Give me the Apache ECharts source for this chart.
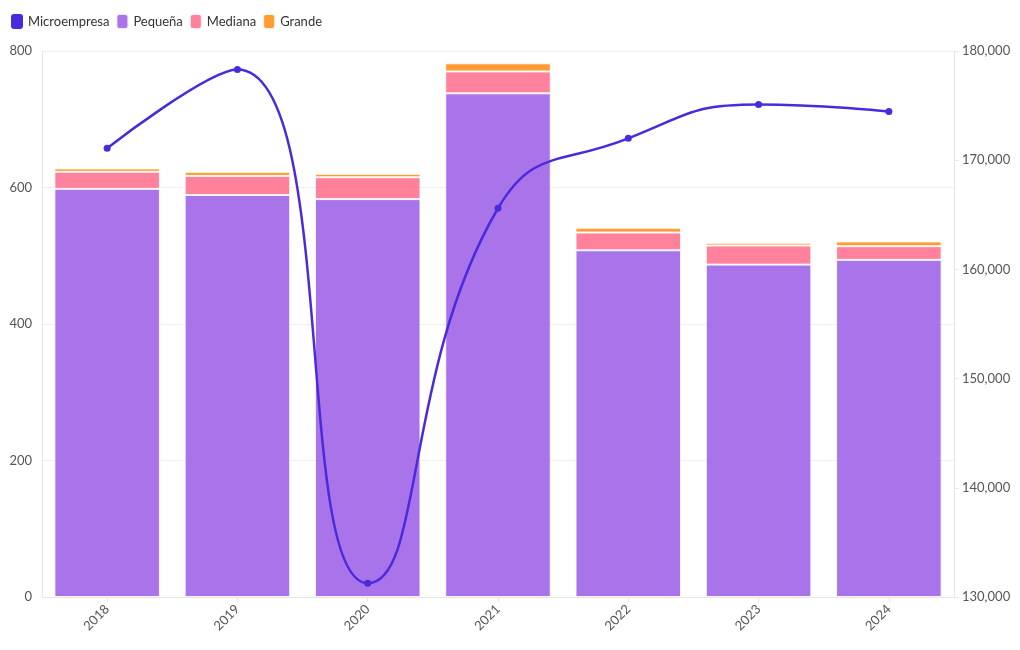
<!DOCTYPE html>
<html><head><meta charset="utf-8">
<script src="https://cdn.jsdelivr.net/npm/echarts@6/dist/echarts.min.js"></script>
<style>html,body{margin:0;padding:0;background:#fff}#c{width:1020px;height:650px}</style>
</head><body><div id="c"></div>
<script>
const years = ['2018','2019','2020','2021','2022','2023','2024'];
const microempresa = [171100, 178300, 131270, 165600, 172000, 175100, 174450];
const pequena = [598, 589, 583, 738, 508, 487, 494];
const mediana = [25, 28, 32, 32, 26, 28, 20];
const grande = [5, 6, 5, 12, 7, 4, 7];
const leftTicks = [0, 200, 400, 600, 800];
const rightTicks = [130000, 140000, 150000, 160000, 170000, 180000];

const font = 'Lato';
const chart = echarts.init(document.getElementById('c'), null, {renderer:'canvas'});
const barStyle = (c) => ({color: c, opacity: 0.85, borderColor: '#fff', borderWidth: 1});
chart.setOption({
  animation: false,
  textStyle: {fontFamily: font},
  legend: {
    left: 6, top: 8, itemWidth: 12, itemHeight: 15, itemGap: 6,
    icon: 'roundRect',
    textStyle: {fontFamily: font, fontSize: 13, color: '#333'},
    data: ['Microempresa','Pequeña','Mediana','Grande']
  },
  grid: {left: 42, right: 66, top: 51, bottom: 53},
  xAxis: {
    type: 'category', data: years,
    axisLine: {lineStyle: {color: '#e6e6e6'}},
    axisTick: {show: true, alignWithLabel: true, lineStyle: {color: '#e6e6e6'}},
    axisLabel: {rotate: 45, color: '#555', fontSize: 13, fontFamily: font, margin: 10}
  },
  yAxis: [
    {type: 'value', min: leftTicks[0], max: leftTicks[leftTicks.length-1], interval: 200,
     axisLine: {show: true, lineStyle: {color: '#e6e6e6'}},
     axisTick: {show: false},
     splitLine: {lineStyle: {color: '#eeeeee'}},
     axisLabel: {color: '#555', fontSize: 13, fontFamily: font, margin: 10}},
    {type: 'value', min: rightTicks[0], max: rightTicks[rightTicks.length-1], interval: 10000,
     axisLine: {show: true, lineStyle: {color: '#e6e6e6'}},
     axisTick: {show: true, length: 5, lineStyle: {color: '#e6e6e6'}},
     splitLine: {show: false},
     axisLabel: {color: '#555', fontSize: 13, fontFamily: font, margin: 8,
       formatter: v => v.toLocaleString('en-US')}}
  ],
  series: [
    {name: 'Pequeña', type: 'bar', stack: 's', data: pequena, barWidth: '81%',
     itemStyle: barStyle('#9a5ce6'), z: 2},
    {name: 'Mediana', type: 'bar', stack: 's', data: mediana,
     itemStyle: barStyle('#ff6b8b'), z: 2},
    {name: 'Grande', type: 'bar', stack: 's', data: grande,
     itemStyle: barStyle('#ff8c0f'), z: 2},
    {name: 'Microempresa', type: 'line', yAxisIndex: 1, data: microempresa,
     smooth: 0.5, symbol: 'circle', symbolSize: 7,
     lineStyle: {color: '#4a2bdc', width: 2.5},
     itemStyle: {color: '#4a2bdc'}, z: 5}
  ]
});
</script></body></html>
